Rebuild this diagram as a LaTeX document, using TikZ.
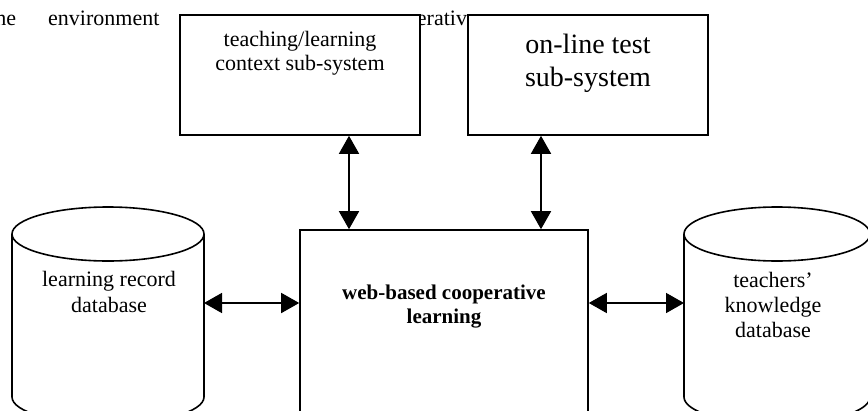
\documentclass[tikz,border=0pt]{standalone}
\usepackage{fontspec}
\setmainfont{Liberation Serif}
\usetikzlibrary{arrows.meta}
\begin{document}
\begin{tikzpicture}[x=1pt,y=-1pt,
  frame/.style={draw, line width=1.6pt, fill=white, inner sep=0pt},
  body/.style={inner sep=0pt, outer sep=0pt},
  link/.style={line width=1.6pt,
    {Triangle[length=18pt,width=20pt]}-{Triangle[length=18pt,width=20pt]}},
  txt/.style={align=center, inner sep=0pt, anchor=base},
  cyl/.style={line width=1.6pt}]
\useasboundingbox (0,0) rectangle (868,410);

% running text of the page behind the figure
\begin{scope}[every node/.style={anchor=base west, inner sep=0pt, font=\fontsize{22}{25}\selectfont}]
  \node (w1) at (-11,25) {the};
  \node (w2) at (48,25) {environment};
  \node (w3) at (374,25) {cooperative};
\end{scope}

% sub-system boxes
\node[frame, minimum width=240pt, minimum height=120pt] (ctx) at (300,75) {};
\node[frame, minimum width=240pt, minimum height=120pt] (test) at (588,75) {};
\node[frame, minimum width=288pt, minimum height=210pt] (web) at (444,335) {};

% labels (anchored at the baseline of their last line)
\node[txt, font=\fontsize{22}{24}\selectfont] (ctxt) at (300,70)
  {teaching/learning\\context sub-system};
\node[txt, font=\fontsize{28}{33}\selectfont] (testt) at (588,86)
  {on-line test\\sub-system};
\node[txt, font=\fontsize{21}{24}\selectfont\bfseries] (webt) at (444,323)
  {web-based cooperative\\learning};

% databases
\draw[cyl] (108,234) ellipse [x radius=96, y radius=27];
\draw[cyl] (12,234) -- (12,397) arc[start angle=180, end angle=0, x radius=96, y radius=27] -- (204,234);
\node[body, minimum width=192pt, minimum height=163pt] (lrdb) at (108,315.5) {};
\node[txt, font=\fontsize{22}{26}\selectfont] (lrdbt) at (109,312)
  {learning record\\database};

\draw[cyl] (777,234) ellipse [x radius=93, y radius=27];
\draw[cyl] (684,234) -- (684,397) arc[start angle=180, end angle=0, x radius=93, y radius=27] -- (870,234);
\node[body, minimum width=186pt, minimum height=163pt] (tkdb) at (777,315.5) {};
\node[txt, font=\fontsize{22}{25}\selectfont] (tkdbt) at (773,337)
  {teachers’\\knowledge\\database};

% connectors
\coordinate (colA) at (349,0);
\coordinate (colB) at (541,0);
\coordinate (rowy) at (0,303);
\draw[link] (ctx.south -| colA) -- (web.north -| colA);
\draw[link] (test.south -| colB) -- (web.north -| colB);
\draw[link] (lrdb.east |- rowy) -- (web.west |- rowy);
\draw[link] (web.east |- rowy) -- (tkdb.west |- rowy);
\end{tikzpicture}
\end{document}
